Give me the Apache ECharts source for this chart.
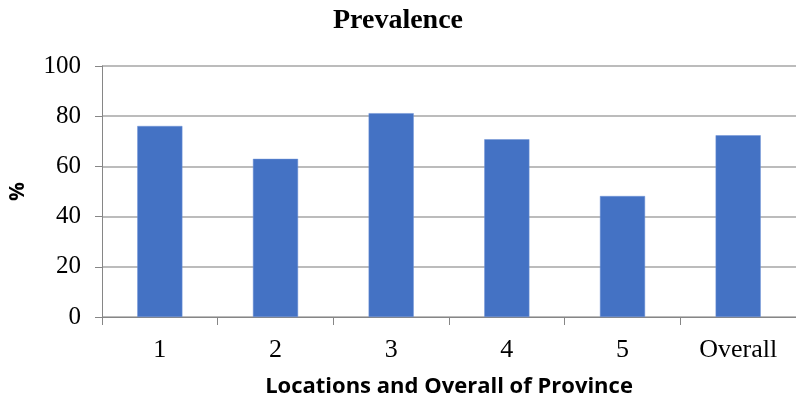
<!DOCTYPE html>
<html><head><meta charset="utf-8">
<script src="https://cdn.jsdelivr.net/npm/echarts@6/dist/echarts.min.js"></script>
<style>html,body{margin:0;padding:0;background:#fff}#c{width:796px;height:402px}</style>
</head><body><div id="c"></div>
<script>
const categories = ['1','2','3','4','5','Overall'];
const prevalence = [76.1, 63.0, 81.2, 70.8, 48.2, 72.4];
const yTicks = [0, 20, 40, 60, 80, 100];

const chart = echarts.init(document.getElementById('c'));
chart.setOption({
  animation: false,
  title: {
    text: 'Prevalence', left: 'center', top: 2,
    textStyle: {fontFamily: 'Liberation Serif', fontWeight: 'bold', fontSize: 28, color: '#000'}
  },
  grid: {left: 102, right: 0, top: 66, bottom: 85, outerBoundsMode: 'none', containLabel: false},
  xAxis: {
    type: 'category', data: categories,
    name: 'Locations and Overall of Province', nameLocation: 'middle', nameGap: 59,
    nameTextStyle: {fontFamily: 'Open Sans', fontWeight: 'bold', fontSize: 22, color: '#000'},
    axisLine: {lineStyle: {color: '#868686', width: 1}},
    axisTick: {show: true, length: 8, lineStyle: {color: '#868686'}},
    axisLabel: {fontFamily: 'Liberation Serif', fontSize: 26, color: '#000', margin: 20}
  },
  yAxis: {
    type: 'value', min: yTicks[0], max: yTicks[yTicks.length-1], interval: 20,
    name: '%', nameLocation: 'middle', nameGap: 73, nameRotate: 90,
    nameTextStyle: {fontFamily: 'Open Sans', fontWeight: 'bold', fontSize: 21, color: '#000'},
    axisLine: {show: true, lineStyle: {color: '#868686', width: 1}},
    axisTick: {show: true, length: 7, lineStyle: {color: '#868686'}},
    axisLabel: {fontFamily: 'Liberation Serif', fontSize: 25, color: '#000', margin: 21},
    splitLine: {lineStyle: {color: '#a6a6a6', width: 1.5}}
  },
  series: [{
    type: 'bar', data: prevalence, barWidth: '39%',
    itemStyle: {color: '#4472C4', borderColor: '#6f93d6', borderWidth: 0.5}
  }]
});
</script></body></html>
